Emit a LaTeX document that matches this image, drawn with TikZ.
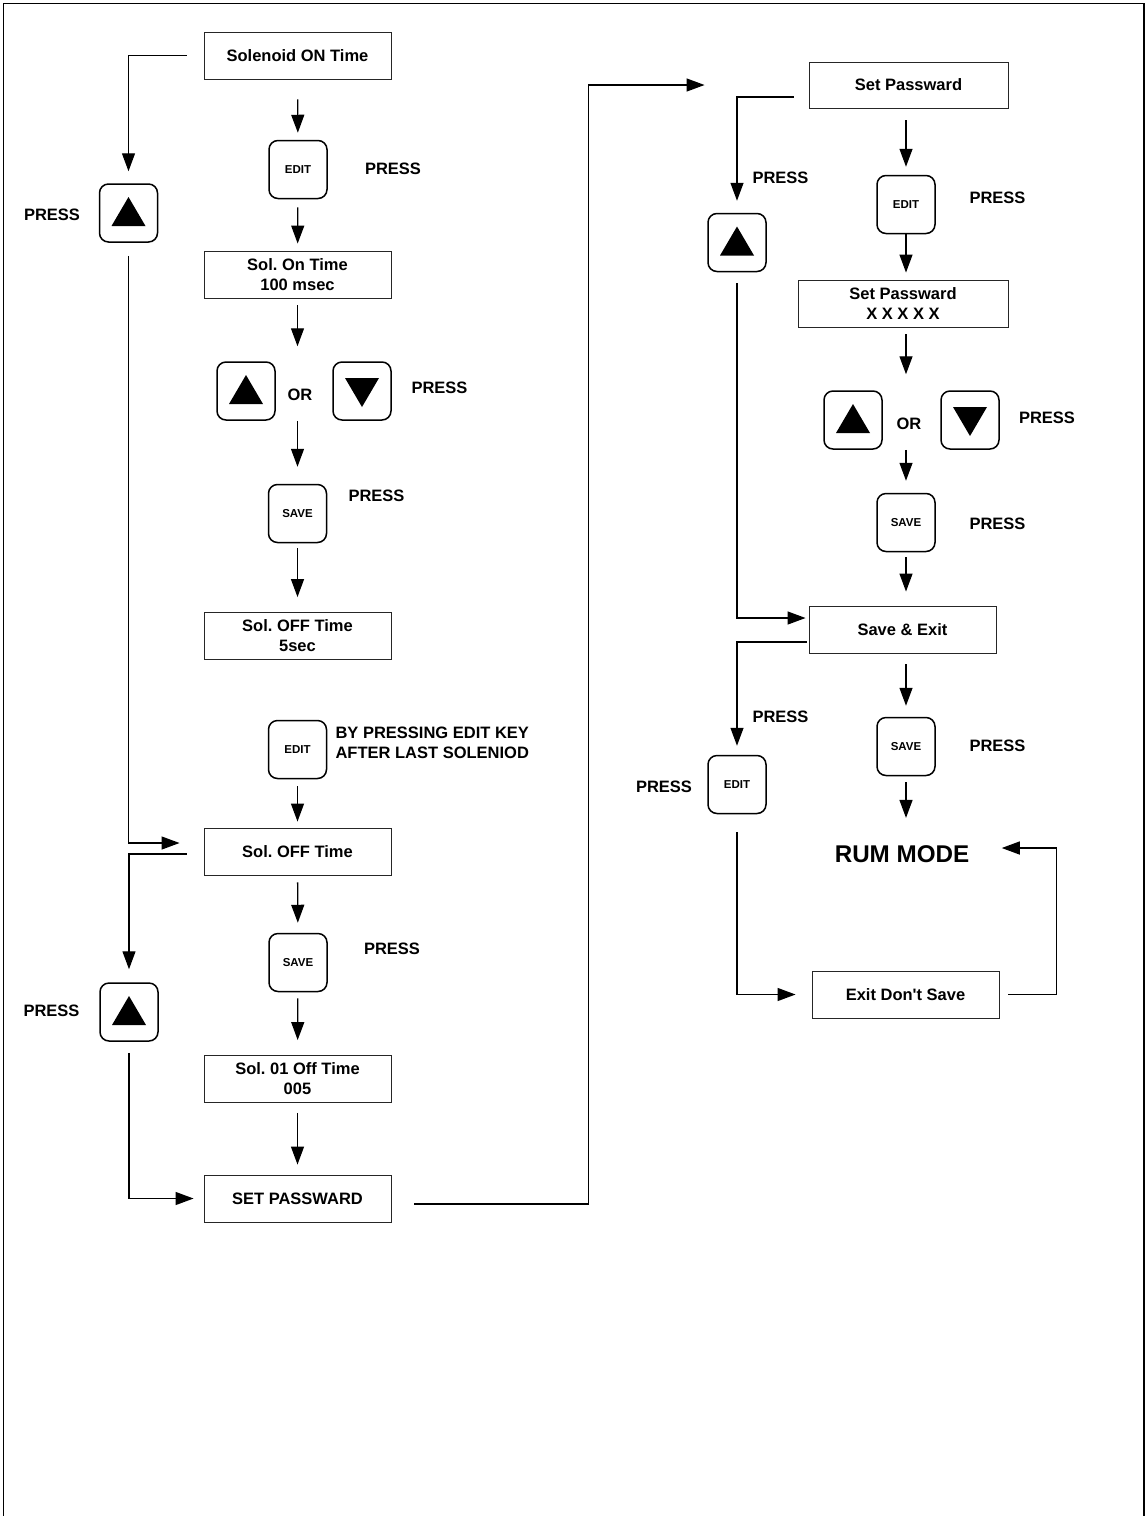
\documentclass[tikz,border=0pt]{standalone}
\usepackage{fontspec}
\setmainfont{Liberation Sans}
\usepackage{tikz}
\usetikzlibrary{arrows.meta}

\tikzset{
  box/.style={draw=black!85, line width=0.9, minimum width=187, minimum height=47,
    align=center, font=\fontsize{16.5}{20}\selectfont\bfseries},
  btn/.style={draw, line width=1.5, rounded corners=9, minimum width=58, minimum height=58,
    font=\fontsize{11.5}{13}\selectfont\bfseries},
  lbl/.style={font=\fontsize{16.5}{20}\selectfont\bfseries},
  arr/.style={line width=1.3, -{Triangle[length=18,width=13]}}
}

\begin{document}
\frenchspacing
\begin{tikzpicture}[x=1pt,y=-1pt]
      \useasboundingbox (0,0) rectangle (1148,1516);
      \draw[line width=1.5] (3.5,1520) -- (3.5,3.5) -- (1144,3.5) -- (1144,1520);
      % left column
      \node[box] (son) at (297.5,55.5) {Solenoid ON Time};
      \node[btn] (edit1) at (298,169.5) {EDIT};
      \node[lbl] (p1) at (393,169) {PRESS};
      \node[box] (sont) at (297.5,274.5) {Sol. On Time\\100 msec};
      \node[btn] (up1) at (246,391) {};
      \node[lbl] (or1) at (300,395) {OR};
      \node[btn] (dn1) at (362,391) {};
      \node[lbl] (p2) at (439.5,388) {PRESS};
      \node[btn] (save1) at (297.5,513.5) {SAVE};
      \node[lbl] (p3) at (376.5,496) {PRESS};
      \node[box] (soff5) at (297.5,636) {Sol. OFF Time\\5sec};
      \node[btn] (edit2) at (297.5,749.5) {EDIT};
      \node[lbl,anchor=west,align=left] (note) at (332,743) {BY PRESSING EDIT KEY\\AFTER LAST SOLENIOD};
      \node[box] (soff) at (297.5,851.5) {Sol. OFF Time};
      \node[btn] (save2) at (298,962.5) {SAVE};
      \node[lbl] (p4) at (392,949) {PRESS};
      \node[box] (s01) at (297.5,1079) {Sol. 01 Off Time\\005};
      \node[box] (setpw) at (297.5,1198.5) {SET PASSWARD};
      % left loop keys
      \node[btn] (upL1) at (128.5,213) {};
      \node[lbl] (pL1) at (52,215) {PRESS};
      \node[btn] (upL2) at (129,1012) {};
      \node[lbl] (pL2) at (51.5,1011) {PRESS};
      % right column
      \node[box,minimum width=199,minimum height=46] (spw) at (908.5,85) {Set Passward};
      \node[btn] (edit3) at (906,204.5) {EDIT};
      \node[lbl] (p5) at (997.5,198) {PRESS};
      \node[box,minimum width=210] (spwx) at (903,303.5) {Set Passward\\X X X X X};
      \node[btn] (up3) at (853,420) {};
      \node[lbl] (or3) at (909,424) {OR};
      \node[btn] (dn3) at (970,420) {};
      \node[lbl] (p6) at (1047,418) {PRESS};
      \node[btn] (save3) at (906,522.5) {SAVE};
      \node[lbl] (p7) at (997.5,524) {PRESS};
      \node[box] (sexit) at (902.5,629.5) {Save \& Exit};
      \node[btn] (save4) at (906,746.5) {SAVE};
      \node[lbl] (p8) at (997.5,746) {PRESS};
      \node[font=\fontsize{24.2}{28}\selectfont\bfseries] (rum) at (902,854) {RUM MODE};
      \node[box] (exitds) at (905.5,994.5) {Exit Don\textquotesingle t Save};
      \node[btn] (upR) at (737,242.5) {};
      \node[lbl] (pR1) at (780.5,178) {PRESS};
      \node[btn] (editR) at (737,784.5) {EDIT};
      \node[lbl] (pR2) at (780.5,717) {PRESS};
      \node[lbl] (pR3) at (664,787) {PRESS};
      % key arrows
      \foreach \b in {upL1,up1,upL2,upR,up3} {
        \fill[shift={(\b.center)}] (0,-16) -- (17,13) -- (-17,13) -- cycle;
      }
      \foreach \b in {dn1,dn3} {
        \fill[shift={(\b.center)}] (0,16) -- (17,-13) -- (-17,-13) -- cycle;
      }
      % left flow
      \draw[arr, shorten <=20, shorten >=7] (son) -- (edit1);
      \draw[arr, shorten <=8, shorten >=7] (edit1) -- (sont);
      \draw[arr, shorten <=7, shorten >=15] (sont.south) -- (sont.south |- up1.north);
      \draw[arr, shorten >=17] (sont.south |- up1.south) -- (sont.south |- save1.north);
      \draw[arr, shorten <=5, shorten >=15] (save1) -- (soff5);
      \draw[arr, shorten <=7, shorten >=6] (edit2) -- (soff);
      \draw[arr, shorten <=7, shorten >=10] (soff) -- (save2);
      \draw[arr, shorten <=6, shorten >=15] (save2) -- (s01);
      \draw[arr, shorten <=10, shorten >=10] (s01) -- (setpw);
      \draw[arr, shorten >=12] ([xshift=-17]son.west) -| (upL1.north);
      \draw[arr, shorten <=13, shorten >=24] (upL1.south) |- ([yshift=8.5]soff.west);
      \draw[arr, shorten >=13] ([xshift=-17,yshift=-2.5]soff.west) -| (upL2.north);
      \draw[arr, shorten <=11, shorten >=10] (upL2.south) |- (setpw.west);
      \draw[arr, shorten >=104] ([xshift=23,yshift=-5.5]setpw.east) -| ([xshift=-220]spw.west) -- (spw.west);
      % right flow
      \draw[arr, shorten <=12, shorten >=8] (edit3 |- spw.south) -- (edit3.north);
      \draw[arr, shorten >=7] (edit3.south) -- (edit3 |- spwx.north);
      \draw[arr, shorten <=7, shorten >=16] (edit3 |- spwx.south) -- (edit3 |- up3.north);
      \draw[arr, shorten >=12] (edit3 |- up3.south) -- (save3.north);
      \draw[arr, shorten <=5, shorten >=14] (save3.south) -- (save3 |- sexit.north);
      \draw[arr, shorten <=11, shorten >=11] (save4 |- sexit.south) -- (save4.north);
      \draw[arr, shorten <=6, shorten >=24] (save4.south) -- (save4 |- rum.north);
      \draw[arr, shorten >=12] ([xshift=-15,yshift=-12]spw.west) -| (upR.north);
      \draw[arr, shorten <=11, shorten >=3] (upR.south) |- ([yshift=11.5]sexit.west);
      \draw[arr, shorten >=9] ([xshift=-2,yshift=-12.5]sexit.west) -| (editR.north);
      \draw[arr, shorten <=18, shorten >=16] (editR.south) |- (exitds.west);
      \draw[arr, shorten >=29] ([xshift=9]exitds.east) -| ([xshift=84,yshift=6]rum.east) -- ([yshift=6]rum.east);
    \end{tikzpicture}
\end{document}
